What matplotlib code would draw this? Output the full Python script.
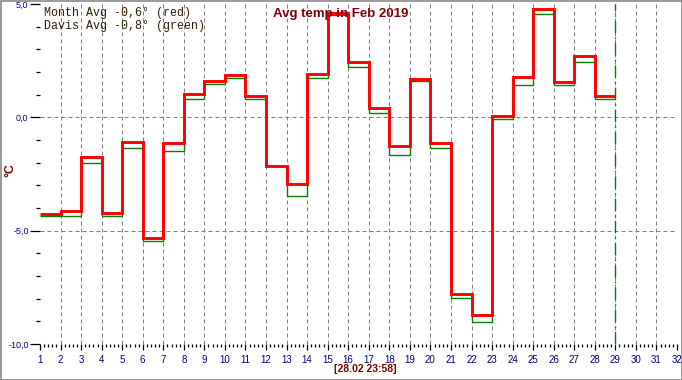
import matplotlib
matplotlib.use("Agg")
import matplotlib.pyplot as plt
from matplotlib import font_manager
from matplotlib.patches import Rectangle
from matplotlib.ticker import MultipleLocator
import numpy as np

# daily average temperatures, Feb 2019 (deg C)
days = list(range(1, 29))
month_avg = [-4.26, -4.13, -1.75, -4.21, -1.09, -5.31, -1.13, 1.04, 1.59, 1.85,
             0.95, -2.13, -2.95, 1.89, 4.60, 2.42, 0.40, -1.26, 1.67, -1.15,
             -7.80, -8.71, 0.04, 1.76, 4.76, 1.56, 2.69, 0.93]
davis_avg = [-4.37, -4.37, -2.00, -4.37, -1.34, -5.45, -1.47, 0.82, 1.45, 1.75,
             0.82, -2.16, -3.45, 1.75, 4.50, 2.20, 0.21, -1.67, 1.59, -1.37,
             -7.97, -9.04, -0.06, 1.44, 4.57, 1.41, 2.45, 0.79]
legend_lines = ["Month Avg -0,6\u00b0 (red)", "Davis Avg -0,8\u00b0 (green)"]
title = "Avg temp in Feb 2019"
stamp = "[28.02 23:58]"
x_range = (1, 32)
y_range = (-10, 5)

installed = {f.name for f in font_manager.fontManager.ttflist}
narrow = "Liberation Sans Narrow" if "Liberation Sans Narrow" in installed else "Liberation Sans"

navy = "#000080"
darkred = "#800000"
grid_kw = dict(color="#808080", lw=0.72, linestyle=(0, (4, 3)), zorder=1)

fig = plt.figure(figsize=(6.82, 3.80), dpi=100)
ax = fig.add_axes([40 / 682, 36 / 380, 637 / 682, 340 / 380])
ax.set_xlim(*x_range)
ax.set_ylim(*y_range)
for s in ax.spines.values():
    s.set_visible(False)

# grid: vertical at each day, horizontal at 0 and -5
for d in range(x_range[0] + 1, x_range[1]):
    ax.axvline(d, **grid_kw)
for yv in (0, -5):
    ax.axhline(yv, **grid_kw)

edges = days + [days[-1] + 1]
ax.stairs(davis_avg, edges, baseline=None, color="#008000", lw=1.0, zorder=3)
ax.stairs(month_avg, edges, baseline=None, color="#ff0000", lw=2.1, zorder=4)
ax.axvline(edges[-1], color="#008000", lw=1.0, linestyle=(0, (9, 3, 1, 3)), zorder=2)

# ticks
ax.xaxis.set_major_locator(MultipleLocator(1))
ax.xaxis.set_minor_locator(MultipleLocator(0.2))
ax.yaxis.set_major_locator(MultipleLocator(5))
ax.yaxis.set_minor_locator(MultipleLocator(1))
ax.tick_params(axis="x", which="major", length=4, width=0.9, color="black",
               pad=4, labelsize=7, labelcolor=navy)
ax.tick_params(axis="x", which="minor", length=2.5, width=0.9, color="black")
ax.tick_params(axis="y", which="major", length=7.2, width=0.9, color="black",
               pad=1, labelsize=6.5, labelcolor=navy)
ax.tick_params(axis="y", which="minor", length=2.9, width=0.9, color="black")
ax.set_xticklabels([str(int(v)) for v in ax.get_xticks()])
ax.set_yticklabels([f"{v:.1f}".replace(".", ",") for v in ax.get_yticks()])
for lab in ax.get_xticklabels() + ax.get_yticklabels():
    lab.set_family(narrow)

fig.text(11 / 682, 1 - 170 / 380, "\u00b0C", color=darkred, fontsize=9,
         fontweight="bold", family="Liberation Sans", rotation=90,
         ha="center", va="center")

fig.text(340.5 / 682, 1 - 13.5 / 380, title, color=darkred, fontsize=9.5,
         fontweight="bold", family="Liberation Sans", ha="center", va="center",
         zorder=0)
for i, line in enumerate(legend_lines):
    fig.text(44 / 682, 1 - (13 + 13.5 * i) / 380, line, color="#301c00",
             fontsize=8.4, family="Liberation Mono", ha="left", va="center")
fig.text(365 / 682, 1 - 369 / 380, stamp, color=darkred, fontsize=7.5,
         fontweight="bold", family="Liberation Sans", ha="center", va="center")

fig.patches.append(Rectangle((0.5 / 682, 0.5 / 380), 681 / 682, 378.5 / 380,
                             transform=fig.transFigure, fill=False,
                             edgecolor="#888888", lw=1.2))

fig.savefig("out.png", dpi=100)
